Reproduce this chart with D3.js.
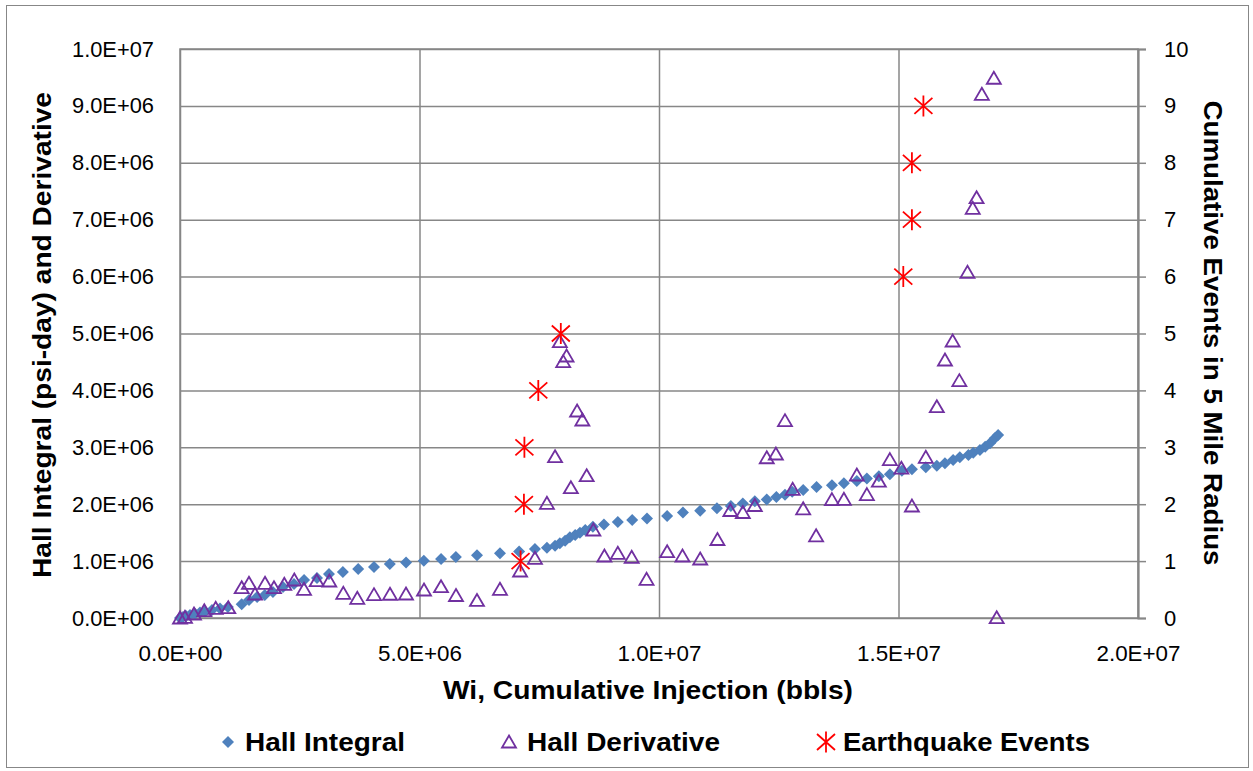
<!DOCTYPE html>
<html>
<head>
<meta charset="utf-8">
<script src="https://cdn.jsdelivr.net/npm/d3@7"></script>
<style>
  html, body { margin: 0; padding: 0; background: #fff; }
  svg { display: block; }
  text { font-family: "Liberation Sans", Arial, sans-serif; fill: #000; }
</style>
</head>
<body>
<svg id="chart" width="1253" height="771"></svg>
<script>
// ---------------- DATA ----------------
const hallIntegralX = [0, 6.3e4, 1.25e5, 2.09e5, 3.13e5, 4.18e5, 5.22e5, 6.68e5, 8.35e5, 1.0e6,
  1.288e6, 1.44e6, 1.61e6, 1.77e6, 1.94e6, 2.15e6, 2.38e6, 2.59e6, 2.86e6, 3.11e6,
  3.40e6, 3.72e6, 4.05e6, 4.38e6, 4.72e6, 5.09e6, 5.45e6, 5.76e6, 6.20e6, 6.68e6,
  7.08e6, 7.41e6, 7.66e6, 7.83e6, 7.93e6, 8.04e6, 8.14e6, 8.25e6, 8.35e6, 8.46e6,
  8.62e6, 8.85e6, 9.14e6, 9.44e6, 9.75e6, 1.017e7, 1.050e7, 1.086e7, 1.121e7, 1.150e7,
  1.175e7, 1.200e7, 1.225e7, 1.245e7, 1.263e7, 1.278e7, 1.301e7, 1.329e7, 1.361e7, 1.386e7,
  1.413e7, 1.434e7, 1.459e7, 1.482e7, 1.507e7, 1.528e7, 1.557e7, 1.580e7, 1.597e7, 1.614e7,
  1.628e7, 1.646e7, 1.656e7, 1.670e7, 1.681e7, 1.691e7, 1.701e7, 1.708e7];
const hallIntegralY = [0, 1.8e4, 3.5e4, 5.3e4, 7.5e4, 9.5e4, 1.15e5, 1.4e5, 1.65e5, 1.95e5,
  2.41e5, 3.16e5, 3.69e5, 4.04e5, 4.57e5, 5.45e5, 5.98e5, 6.68e5, 7.03e5, 7.73e5,
  8.08e5, 8.61e5, 8.96e5, 9.49e5, 9.75e5, 1.007e6, 1.037e6, 1.072e6, 1.102e6, 1.137e6,
  1.169e6, 1.213e6, 1.236e6, 1.271e6, 1.313e6, 1.359e6, 1.418e6, 1.459e6, 1.499e6, 1.547e6,
  1.605e6, 1.643e6, 1.687e6, 1.722e6, 1.749e6, 1.793e6, 1.854e6, 1.886e6, 1.930e6, 1.968e6,
  2.012e6, 2.051e6, 2.083e6, 2.127e6, 2.167e6, 2.220e6, 2.250e6, 2.302e6, 2.332e6, 2.367e6,
  2.408e6, 2.450e6, 2.490e6, 2.527e6, 2.587e6, 2.613e6, 2.649e6, 2.677e6, 2.719e6, 2.777e6,
  2.824e6, 2.865e6, 2.905e6, 2.953e6, 3.011e6, 3.070e6, 3.158e6, 3.216e6];

const hallDerivX = [0, 1.04e5, 2.92e5, 5.07e5, 7.45e5, 1.008e6,
  1.288e6, 1.44e6, 1.566e6, 1.775e6, 1.962e6, 2.177e6, 2.386e6, 2.589e6, 2.854e6, 3.117e6,
  3.409e6, 3.701e6, 4.050e6, 4.384e6, 4.718e6, 5.094e6, 5.449e6, 5.762e6, 6.20e6, 6.68e6,
  7.10e6, 7.41e6, 7.66e6, 7.83e6, 7.93e6, 8.00e6, 8.07e6, 8.16e6, 8.29e6, 8.40e6,
  8.49e6, 8.63e6, 8.86e6, 9.14e6, 9.43e6, 9.74e6, 1.017e7, 1.049e7, 1.086e7, 1.122e7,
  1.149e7, 1.175e7, 1.200e7, 1.225e7, 1.244e7, 1.263e7, 1.279e7, 1.301e7, 1.328e7, 1.361e7,
  1.386e7, 1.413e7, 1.434e7, 1.459e7, 1.482e7, 1.506e7, 1.528e7, 1.557e7, 1.580e7, 1.597e7,
  1.613e7, 1.627e7, 1.644e7, 1.655e7, 1.663e7, 1.674e7, 1.699e7, 1.705e7];
const hallDerivY = [0, 1.2e4, 7.0e4, 1.28e5, 1.70e5, 1.81e5,
  5.33e5, 6.10e5, 4.22e5, 6.10e5, 5.33e5, 5.92e5, 6.68e5, 5.04e5, 6.56e5, 6.50e5,
  4.34e5, 3.46e5, 4.10e5, 4.17e5, 4.22e5, 4.92e5, 5.50e5, 3.95e5, 3.08e5, 5.04e5,
  8.26e5, 1.049e6, 2.016e6, 2.835e6, 4.856e6, 4.505e6, 4.605e6, 2.290e6, 3.638e6, 3.480e6,
  2.501e6, 1.547e6, 1.090e6, 1.137e6, 1.067e6, 6.80e5, 1.165e6, 1.090e6, 1.037e6, 1.380e6,
  1.889e6, 1.854e6, 1.977e6, 2.816e6, 2.882e6, 3.468e6, 2.262e6, 1.919e6, 1.445e6, 2.081e6,
  2.086e6, 2.513e6, 2.169e6, 2.404e6, 2.784e6, 2.633e6, 1.968e6, 2.824e6, 3.714e6, 4.534e6,
  4.868e6, 4.171e6, 6.076e6, 7.200e6, 7.387e6, 9.204e6, 9.486e6, 5.0e3];

const quakeX = [7.11e6, 7.18e6, 7.19e6, 7.48e6, 7.95e6, 1.510e7, 1.528e7, 1.528e7, 1.552e7];
const quakeY = [1, 2, 3, 4, 5, 6, 7, 8, 9];

const xTicks = [0, 5e6, 1e7, 1.5e7, 2e7];
const xTickLabels = ["0.0E+00", "5.0E+06", "1.0E+07", "1.5E+07", "2.0E+07"];
const yTicks = [0, 1e6, 2e6, 3e6, 4e6, 5e6, 6e6, 7e6, 8e6, 9e6, 1e7];
const yTickLabels = ["0.0E+00", "1.0E+06", "2.0E+06", "3.0E+06", "4.0E+06", "5.0E+06",
  "6.0E+06", "7.0E+06", "8.0E+06", "9.0E+06", "1.0E+07"];
const y2Ticks = [0, 1, 2, 3, 4, 5, 6, 7, 8, 9, 10];
const y2TickLabels = ["0", "1", "2", "3", "4", "5", "6", "7", "8", "9", "10"];

const seriesNames = ["Hall Integral", "Hall Derivative", "Earthquake Events"];
const xTitle = "Wi, Cumulative Injection (bbls)";
const yTitle = "Hall Integral (psi-day) and Derivative";
const y2Title = "Cumulative Events in 5 Mile Radius";

// ---------------- LAYOUT ----------------
const svg = d3.select("#chart");
const L = 180, R = 1138, T = 49, B = 618;
const gridColor = "#878787";
const blue = "#4F81BD", purple = "#7030A0", red = "#FF0000";
const tickFont = "Liberation Sans, Arial, sans-serif";

const x = d3.scaleLinear().domain([0, 2e7]).range([L, R]);
const y = d3.scaleLinear().domain([0, 1e7]).range([B, T]);
const y2 = d3.scaleLinear().domain([0, 10]).range([B, T]);

// outer frame
svg.append("rect").attr("x", 6.5).attr("y", 5.5).attr("width", 1242).attr("height", 762)
  .attr("fill", "#fff").attr("stroke", gridColor).attr("stroke-width", 1);

// gridlines (horizontal)
const gy = svg.append("g").attr("transform", `translate(${L},0)`)
  .call(d3.axisLeft(y).tickValues(yTicks).tickSize(-(R - L)).tickFormat(""));
gy.select(".domain").remove();
gy.selectAll("line").attr("stroke", gridColor).attr("stroke-width", 1.5);

// gridlines (vertical)
const gx = svg.append("g").attr("transform", `translate(0,${B})`)
  .call(d3.axisBottom(x).tickValues(xTicks).tickSize(-(B - T)).tickFormat(""));
gx.select(".domain").remove();
gx.selectAll("line").attr("stroke", gridColor).attr("stroke-width", 1.5);

// left labels
const ay = svg.append("g").attr("transform", `translate(${L},0)`)
  .call(d3.axisLeft(y).tickValues(yTicks).tickSize(0).tickPadding(26)
    .tickFormat((d, i) => yTickLabels[i]));
ay.select(".domain").remove();
ay.selectAll("text").attr("font-size", 22).attr("font-family", tickFont)
  .attr("fill", "#000").attr("textLength", 82).attr("lengthAdjust", "spacingAndGlyphs");

// bottom labels
const ax = svg.append("g").attr("transform", `translate(0,${B})`)
  .call(d3.axisBottom(x).tickValues(xTicks).tickSize(0).tickPadding(27)
    .tickFormat((d, i) => xTickLabels[i]));
ax.select(".domain").remove();
ax.selectAll("text").attr("font-size", 22).attr("font-family", tickFont)
  .attr("fill", "#000").attr("textLength", 84).attr("lengthAdjust", "spacingAndGlyphs");

// right axis
const ay2 = svg.append("g").attr("transform", `translate(${R},0)`)
  .call(d3.axisRight(y2).tickValues(y2Ticks).tickSize(8).tickPadding(18)
    .tickFormat((d, i) => y2TickLabels[i]));
ay2.select(".domain").attr("stroke", gridColor).attr("stroke-width", 2);
ay2.selectAll("line").attr("stroke", gridColor).attr("stroke-width", 1.5);
ay2.selectAll("text").attr("font-size", 22).attr("font-family", tickFont)
  .attr("fill", "#000");

// plot border
svg.append("rect").attr("x", L).attr("y", T).attr("width", R - L).attr("height", B - T)
  .attr("fill", "none").attr("stroke", gridColor).attr("stroke-width", 1.5);

// ---------------- MARKERS ----------------
const diamondPath = "M0,-6L6,0L0,6L-6,0Z";
const trianglePath = "M0,-6.5L7,5.5L-7,5.5Z";
const starPath = "M-9,-8L9,8M-9,8L9,-8M0,-10.5L0,10.5";

const hallIntegral = hallIntegralX.map((v, i) => ({ x: v, y: hallIntegralY[i] }));
const hallDeriv = hallDerivX.map((v, i) => ({ x: v, y: hallDerivY[i] }));
const quakes = quakeX.map((v, i) => ({ x: v, y: quakeY[i] }));

svg.append("g").selectAll("path").data(hallIntegral).join("path")
  .attr("d", diamondPath)
  .attr("transform", d => `translate(${x(d.x)},${y(d.y)})`)
  .attr("fill", blue);

svg.append("g").selectAll("path").data(hallDeriv).join("path")
  .attr("d", trianglePath)
  .attr("transform", d => `translate(${x(d.x)},${y(d.y)})`)
  .attr("fill", "none").attr("stroke", purple).attr("stroke-width", 1.8);

svg.append("g").selectAll("path").data(quakes).join("path")
  .attr("d", starPath)
  .attr("transform", d => `translate(${x(d.x)},${y2(d.y)})`)
  .attr("fill", "none").attr("stroke", red).attr("stroke-width", 1.8);

// ---------------- TITLES ----------------
const boldFont = "Liberation Sans, Arial, sans-serif";
svg.append("text").text(xTitle)
  .attr("x", 648).attr("y", 699).attr("text-anchor", "middle")
  .attr("font-size", 25).attr("font-weight", "bold").attr("font-family", boldFont)
  .attr("textLength", 410).attr("lengthAdjust", "spacingAndGlyphs");

svg.append("text").text(yTitle)
  .attr("transform", "translate(51,335) rotate(-90)").attr("text-anchor", "middle")
  .attr("font-size", 25).attr("font-weight", "bold").attr("font-family", boldFont)
  .attr("textLength", 486).attr("lengthAdjust", "spacingAndGlyphs");

svg.append("text").text(y2Title)
  .attr("transform", "translate(1204,333) rotate(90)").attr("text-anchor", "middle")
  .attr("font-size", 25).attr("font-weight", "bold").attr("font-family", boldFont)
  .attr("textLength", 465).attr("lengthAdjust", "spacingAndGlyphs");

// ---------------- LEGEND ----------------
const legendItems = [
  { name: seriesNames[0], mx: 228, tx: 245, tw: 160, type: "diamond" },
  { name: seriesNames[1], mx: 509, tx: 527, tw: 193, type: "triangle" },
  { name: seriesNames[2], mx: 826, tx: 843, tw: 247, type: "star" }
];
const ly = 742;
const lg = svg.append("g");
legendItems.forEach(it => {
  if (it.type === "diamond") {
    lg.append("path").attr("d", diamondPath).attr("transform", `translate(${it.mx},${ly})`).attr("fill", blue);
  } else if (it.type === "triangle") {
    lg.append("path").attr("d", trianglePath).attr("transform", `translate(${it.mx},${ly})`)
      .attr("fill", "none").attr("stroke", purple).attr("stroke-width", 1.8);
  } else {
    lg.append("path").attr("d", starPath).attr("transform", `translate(${it.mx},${ly})`)
      .attr("fill", "none").attr("stroke", red).attr("stroke-width", 1.8);
  }
  lg.append("text").text(it.name).attr("x", it.tx).attr("y", ly + 9)
    .attr("font-size", 25).attr("font-weight", "bold").attr("font-family", boldFont)
    .attr("textLength", it.tw).attr("lengthAdjust", "spacingAndGlyphs");
});
</script>
</body>
</html>
